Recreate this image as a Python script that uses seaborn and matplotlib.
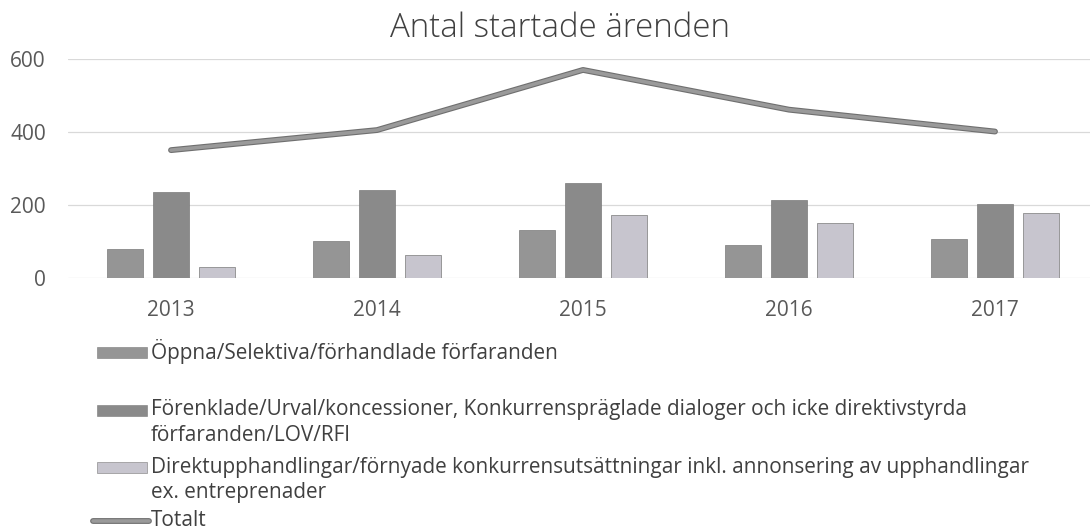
import numpy as np
import pandas as pd
import matplotlib
matplotlib.use("Agg")
import matplotlib.pyplot as plt
import matplotlib.patheffects as pe
from matplotlib.patches import Rectangle
from matplotlib.lines import Line2D
import seaborn as sns

# ---- data ----
years = ["2013", "2014", "2015", "2016", "2017"]
oppna = [80, 100, 131, 90, 105]
forenklade = [235, 240, 259, 213, 203]
direkt = [28, 61, 172, 150, 177]
totalt = [350, 405, 570, 461, 401]
series_labels = [
    "Öppna/Selektiva/förhandlade förfaranden",
    "Förenklade/Urval/koncessioner, Konkurrenspräglade dialoger och icke direktivstyrda\nförfaranden/LOV/RFI",
    "Direktupphandlingar/förnyade konkurrensutsättningar inkl. annonsering av upphandlingar\nex. entreprenader",
]
total_label = "Totalt"
title = "Antal startade ärenden"
yticks = [0, 200, 400, 600]

bar_colors = ["#959595", "#8a8a8a", "#c7c5ce"]
line_color = "#9a9a9a"

sns.set_theme(style="white")
plt.rcParams["font.family"] = ["Open Sans", "DejaVu Sans"]

W, H = 1090, 532
fig = plt.figure(figsize=(W / 100, H / 100), dpi=100)
fig.patch.set_facecolor("white")

y0_px, y600_px = 277.7, 59.0
x_left, x_right = 68.0, 1098.0
ax = fig.add_axes([x_left / W, (H - y0_px) / H, (x_right - x_left) / W, (y0_px - y600_px) / H])

df = pd.DataFrame({
    "year": years * 3,
    "series": [series_labels[0]] * 5 + [series_labels[1]] * 5 + [series_labels[2]] * 5,
    "value": oppna + forenklade + direkt,
})

sns.barplot(data=df, x="year", y="value", hue="series", hue_order=series_labels,
            palette=bar_colors, width=0.67, gap=0.23, ax=ax, legend=False,
            edgecolor="#7a7a7a", linewidth=0.5, saturation=1, zorder=3)

stroke = [pe.Stroke(linewidth=4.2, foreground="#6f6f6f"), pe.Normal()]
sns.lineplot(x=np.arange(len(years)), y=totalt, ax=ax, color=line_color,
             linewidth=2.6, path_effects=stroke, zorder=4)

ax.set_xlim(-0.5, 4.5)
ax.set_ylim(0, 600)
ax.set_yticks(yticks)
ax.set_yticklabels([str(v) for v in yticks])
ax.set_xlabel("")
ax.set_ylabel("")
for s in ax.spines.values():
    s.set_visible(False)
ax.grid(axis="y", color="#d9d9d9", linewidth=0.9, zorder=0)
ax.grid(axis="x", visible=False)
ax.tick_params(axis="y", length=0, pad=16, labelsize=15, labelcolor="#595959")
ax.tick_params(axis="x", length=0, pad=16, labelsize=15, labelcolor="#595959")

fig.text(560 / W, 1 - 28 / H, title, ha="center", va="center", fontsize=23.8,
         color="#404040", fontweight="light")

# ---- legend (manual, Excel-style) ----
entry_y = [352, 410, 467, 521]
pitch = 25.5
hx0, hx1 = 97, 147
tx = 151
fs = 14.95
for i, lbl in enumerate(series_labels):
    yc = entry_y[i]
    fig.add_artist(Rectangle((hx0 / W, 1 - (yc + 5.5) / H), (hx1 - hx0) / W, 11 / H,
                             transform=fig.transFigure, facecolor=bar_colors[i],
                             edgecolor="#7a7a7a", linewidth=0.4))
    for j, line in enumerate(lbl.split("\n")):
        fig.text(tx / W, 1 - (yc + j * pitch) / H, line,
                 ha="left", va="center", fontsize=fs, color="#404040")
yc = entry_y[3]
fig.add_artist(Line2D([93 / W, 149 / W], [1 - yc / H, 1 - yc / H], transform=fig.transFigure,
                      color=line_color, linewidth=2.6, path_effects=stroke))
fig.text(tx / W, 1 - yc / H, total_label, ha="left", va="center", fontsize=fs,
         color="#404040")

fig.savefig("out.png", dpi=100, facecolor="white")
